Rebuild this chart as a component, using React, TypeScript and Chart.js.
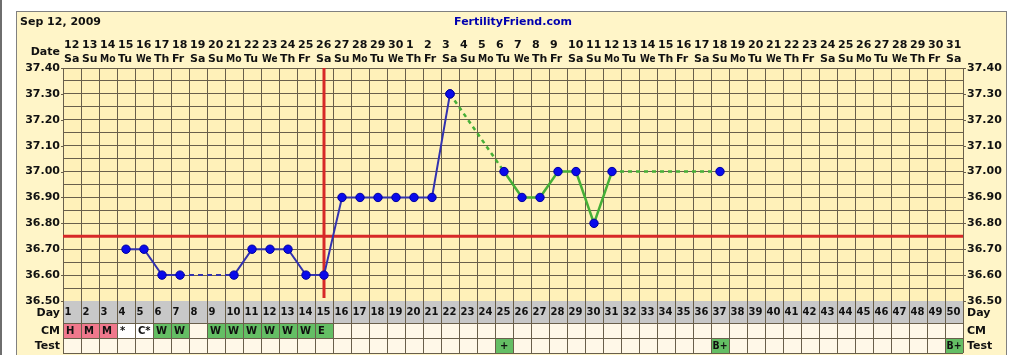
import React, { useEffect, useRef } from 'react';
import { Chart, registerables } from 'chart.js';
Chart.register(...registerables);

const cycleDays = ['1','2','3','4','5','6','7','8','9','10','11','12','13','14','15','16','17','18','19','20','21','22','23','24','25','26','27','28','29','30','31','32','33','34','35','36','37','38','39','40','41','42','43','44','45','46','47','48','49','50'];
const dateLabels = ['12','13','14','15','16','17','18','19','20','21','22','23','24','25','26','27','28','29','30','1','2','3','4','5','6','7','8','9','10','11','12','13','14','15','16','17','18','19','20','21','22','23','24','25','26','27','28','29','30','31'];
const dowLabels = ['Sa','Su','Mo','Tu','We','Th','Fr','Sa','Su','Mo','Tu','We','Th','Fr','Sa','Su','Mo','Tu','We','Th','Fr','Sa','Su','Mo','Tu','We','Th','Fr','Sa','Su','Mo','Tu','We','Th','Fr','Sa','Su','Mo','Tu','We','Th','Fr','Sa','Su','Mo','Tu','We','Th','Fr','Sa'];
const preOvTemps = [null,null,null,36.7,36.7,36.6,36.6,null,null,36.6,36.7,36.7,36.7,36.6,36.6,36.9,36.9,36.9,36.9,36.9,36.9,37.3,null,null,null,null,null,null,null,null,null,null,null,null,null,null,null,null,null,null,null,null,null,null,null,null,null,null,null,null];
const postTemps = [null,null,null,null,null,null,null,null,null,null,null,null,null,null,null,null,null,null,null,null,null,37.3,null,null,37.0,36.9,36.9,37.0,37.0,36.8,37.0,null,null,null,null,null,37.0,null,null,null,null,null,null,null,null,null,null,null,null,null];
const cmLabels = ['H','M','M','*','C*','W','W','','W','W','W','W','W','W','E','','','','','','','','','','','','','','','','','','','','','','','','','','','','','','','','','','',''];
const testLabels = ['','','','','','','','','','','','','','','','','','','','','','','','','+','','','','','','','','','','','','B+','','','','','','','','','','','','','B+'];
const yTickValues = [37.4, 37.3, 37.2, 37.1, 37.0, 36.9, 36.8, 36.7, 36.6, 36.5];
const coverline = 36.75;
const ovulationIndex = 14;
const chartDate = 'Sep 12, 2009';
const siteName = 'FertilityFriend.com';

const W = 1010;
const H = 355;
const GRID = 'rgb(105,95,75)';
const PANEL = 'rgb(255,245,200)';
const PLOT = 'rgb(255,241,185)';
const FONT = '"DejaVu Sans", Verdana, sans-serif';

const cellColor = (s: string) => {
  if (s === 'H' || s === 'M') return 'rgb(240,120,140)';
  if (s === 'W' || s === 'E' || s === '+' || s === 'B+') return 'rgb(100,190,100)';
  if (s === '*' || s === 'C*') return 'rgb(255,255,255)';
  return null;
};

const ffPlugin = {
  id: 'ffPlugin',
  beforeDraw(chart: any) {
    const { ctx, chartArea: a } = chart;
    ctx.save();
    ctx.fillStyle = '#ffffff';
    ctx.fillRect(0, 0, W, H);
    ctx.fillStyle = 'rgb(110,110,110)';
    ctx.fillRect(0, 0, 2, H);
    ctx.fillStyle = PANEL;
    ctx.fillRect(16, 11, 991, H);
    ctx.strokeStyle = 'rgb(128,128,128)';
    ctx.lineWidth = 1;
    ctx.strokeRect(16.5, 11.5, 990, H + 10);
    ctx.fillStyle = PLOT;
    ctx.fillRect(a.left, a.top, a.right - a.left, a.bottom - a.top);
    ctx.restore();
  },
  beforeDatasetsDraw(chart: any) {
    const { ctx, chartArea: a, scales } = chart;
    const xs = scales.x;
    const ys = scales.y;
    ctx.save();
    ctx.strokeStyle = 'rgb(215,40,40)';
    ctx.lineWidth = 3;
    const yc = ys.getPixelForValue(coverline);
    ctx.beginPath();
    ctx.moveTo(a.left, yc);
    ctx.lineTo(a.right, yc);
    ctx.stroke();
    const xo = xs.getPixelForValue(ovulationIndex);
    ctx.beginPath();
    ctx.moveTo(xo, a.top);
    ctx.lineTo(xo, a.bottom - 3);
    ctx.stroke();
    ctx.restore();
  },
  afterDraw(chart: any) {
    const { ctx, chartArea: a, scales } = chart;
    const xs = scales.x;
    const ys = scales.y;
    const colW = xs.getPixelForValue(1) - xs.getPixelForValue(0);
    const colLeft = (i: number) => xs.getPixelForValue(i) - colW / 2;
    const n = cycleDays.length;
    const dayTop = a.bottom;
    const dayBot = a.bottom + 22;
    const cmBot = dayBot + 15;
    const testBot = cmBot + 15;
    ctx.save();
    ctx.fillStyle = 'rgb(200,200,200)';
    ctx.fillRect(a.left, dayTop, a.right - a.left, dayBot - dayTop);
    ctx.fillStyle = 'rgb(255,248,232)';
    ctx.fillRect(a.left, dayBot, a.right - a.left, testBot - dayBot);
    for (let i = 0; i < n; i++) {
      const c1 = cellColor(cmLabels[i]);
      if (c1) { ctx.fillStyle = c1; ctx.fillRect(colLeft(i), dayBot, colW, cmBot - dayBot); }
      const c2 = cellColor(testLabels[i]);
      if (c2) { ctx.fillStyle = c2; ctx.fillRect(colLeft(i), cmBot, colW, testBot - cmBot); }
    }
    ctx.strokeStyle = GRID;
    ctx.lineWidth = 1;
    ctx.beginPath();
    for (let i = 0; i <= n; i++) {
      const x = Math.round(colLeft(i)) + 0.5;
      ctx.moveTo(x, dayTop);
      ctx.lineTo(x, testBot);
    }
    for (const y of [dayBot, cmBot, testBot]) {
      ctx.moveTo(a.left, Math.round(y) + 0.5);
      ctx.lineTo(a.right, Math.round(y) + 0.5);
    }
    for (const v of yTickValues) {
      const y = Math.round(ys.getPixelForValue(v)) + 0.5;
      ctx.moveTo(a.left - 2, y);
      ctx.lineTo(a.left, y);
      ctx.moveTo(a.right, y);
      ctx.lineTo(a.right + 3, y);
    }
    ctx.stroke();

    ctx.fillStyle = '#111';
    ctx.textBaseline = 'middle';
    ctx.font = `bold 11px ${FONT}`;
    ctx.textAlign = 'left';
    ctx.fillText(chartDate, 20, 22.5);
    ctx.fillStyle = 'rgb(0,0,175)';
    ctx.textAlign = 'center';
    ctx.fillText(siteName, (a.left + a.right) / 2, 22.5);
    ctx.fillStyle = '#111';
    ctx.textAlign = 'left';
    for (let i = 0; i < n; i++) {
      ctx.fillText(dateLabels[i], colLeft(i) + 1, 45.5, colW - 1.5);
      ctx.fillText(dowLabels[i], colLeft(i) + 1, 59, colW - 2.5);
    }
    ctx.textAlign = 'right';
    ctx.fillText('Date', 60, 52.5);
    for (const v of yTickValues) {
      const y = ys.getPixelForValue(v);
      ctx.textAlign = 'right';
      ctx.fillText(v.toFixed(2), 60, y);
      ctx.textAlign = 'left';
      ctx.fillText(v.toFixed(2), a.right + 4, y);
    }
    ctx.textAlign = 'right';
    ctx.fillText('Day', 60, dayTop + 12);
    ctx.fillText('CM', 60, dayBot + 8);
    ctx.fillText('Test', 60, cmBot + 8);
    ctx.textAlign = 'left';
    ctx.fillText('Day', a.right + 4, dayTop + 12);
    ctx.fillText('CM', a.right + 4, dayBot + 8);
    ctx.fillText('Test', a.right + 4, cmBot + 8);
    ctx.font = `bold 10px ${FONT}`;
    for (let i = 0; i < n; i++) {
      ctx.fillText(cycleDays[i], colLeft(i) + 1.5, dayTop + 11.5, colW - 2.5);
    }
    for (let i = 0; i < n; i++) {
      if (cmLabels[i]) ctx.fillText(cmLabels[i], colLeft(i) + 3, dayBot + 8, colW - 4);
      if (testLabels[i]) ctx.fillText(testLabels[i], colLeft(i) + (testLabels[i].length > 1 ? 1.5 : 5), cmBot + 8, colW - 3);
    }
    ctx.restore();
  },
};

const dashed = (ctx: any, dash: number[]) => (ctx.p0.skip || ctx.p1.skip ? dash : undefined);

export default function App() {
  const ref = useRef<HTMLCanvasElement>(null);
  useEffect(() => {
    if (!ref.current) return;
    const chart = new Chart(ref.current, {
      type: 'line',
      data: {
        labels: cycleDays,
        datasets: [
          {
            data: preOvTemps as any,
            borderColor: 'rgb(50,50,175)',
            borderWidth: 2,
            pointRadius: 4.2,
            pointBackgroundColor: 'rgb(10,10,235)',
            pointBorderColor: 'rgb(0,0,160)',
            pointBorderWidth: 1,
            spanGaps: true,
            tension: 0,
            segment: { borderDash: (c: any) => dashed(c, [5, 4]) },
          },
          {
            data: postTemps as any,
            borderColor: 'rgb(70,175,55)',
            borderWidth: 2.5,
            pointRadius: 4.2,
            pointBackgroundColor: 'rgb(10,10,235)',
            pointBorderColor: 'rgb(0,0,160)',
            pointBorderWidth: 1,
            spanGaps: true,
            tension: 0,
            segment: { borderDash: (c: any) => dashed(c, [4, 4]) },
          },
        ],
      },
      options: {
        animation: false,
        responsive: false,
        devicePixelRatio: 1,
        layout: { padding: { left: 63, top: 68, right: 47, bottom: 54 } },
        plugins: { legend: { display: false }, tooltip: { enabled: false } },
        scales: {
          x: {
            type: 'category',
            offset: true,
            grid: { offset: true, color: GRID, drawTicks: false },
            border: { color: GRID },
            ticks: { display: false },
          },
          y: {
            min: 36.5,
            max: 37.4,
            grid: { color: GRID, drawTicks: false },
            border: { color: GRID },
            ticks: { display: false, stepSize: 0.05 },
          },
        },
      },
      plugins: [ffPlugin],
    });
    return () => chart.destroy();
  }, []);
  return (
    <div style={{ position: 'absolute', left: 0, top: 0, width: W, height: H }}>
      <canvas ref={ref} width={W} height={H} style={{ display: 'block' }} />
    </div>
  );
}
